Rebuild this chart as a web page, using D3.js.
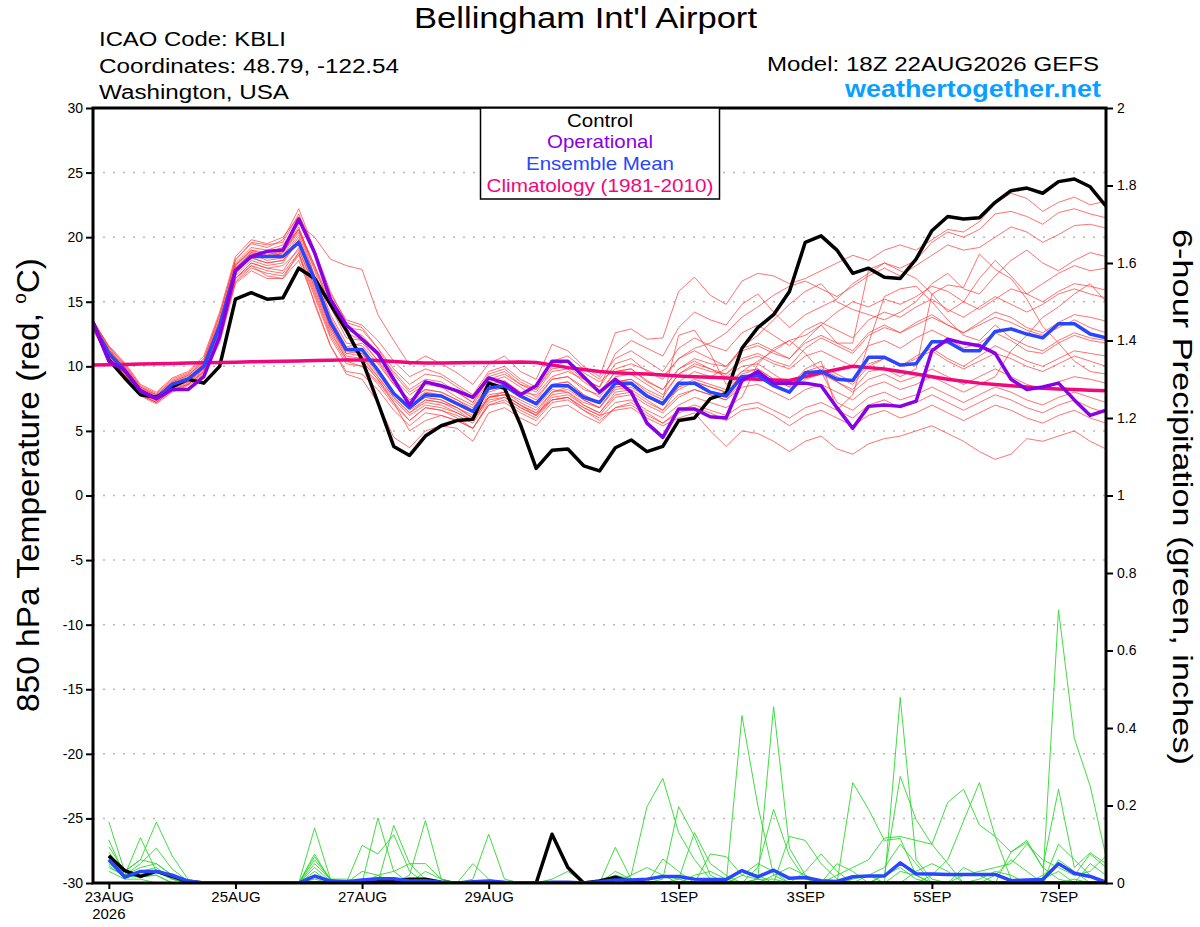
<!DOCTYPE html>
<html><head><meta charset="utf-8">
<script src="https://cdn.jsdelivr.net/npm/d3@7"></script>
<style>
body{margin:0;background:#fff}
svg{display:block}
text{font-family:"Liberation Sans",Arial,Helvetica,sans-serif}
</style>
</head><body>
<svg id="chart" width="1200" height="927"></svg>
<script>
// ---------------- DATA ----------------
const tempStart = "2026-08-22T18:00:00Z";   // first 6-hourly temperature value
const precipStart = "2026-08-23T00:00:00Z"; // first 6-hourly precipitation value
const domainEnd = "2026-09-07T18:00:00Z";
const stepHours = 6;

const xTickDates = ["2026-08-23","2026-08-25","2026-08-27","2026-08-29","2026-09-01","2026-09-03","2026-09-05","2026-09-07"];
const xTickLabels = ["23AUG","25AUG","27AUG","29AUG","1SEP","3SEP","5SEP","7SEP"];
const tempTicks = [30,25,20,15,10,5,0,-5,-10,-15,-20,-25,-30];
const precipTicks = [0,0.2,0.4,0.6,0.8,1,1.2,1.4,1.6,1.8,2];
const legendLabels = ["Control","Operational","Ensemble Mean","Climatology (1981-2010)"];

// 850 hPa temperature (C), 6-hourly
const controlT = [13.4,10.5,9.1,7.8,7.6,8.4,9.0,8.7,10.0,15.2,15.7,15.2,15.3,17.6,16.8,14.8,12.8,10.5,7.2,3.8,3.1,4.6,5.4,5.8,5.9,8.7,8.3,5.5,2.1,3.5,3.6,2.3,1.9,3.7,4.3,3.4,3.8,5.8,6.0,7.5,7.9,11.4,13.0,14.0,15.8,19.6,20.1,19.0,17.2,17.6,16.9,16.8,18.3,20.5,21.6,21.4,21.5,22.7,23.6,23.8,23.4,24.3,24.5,23.9,22.4];
const operationalT = [13.4,10.4,9.7,8.1,7.5,8.2,8.2,9.2,12.3,17.4,18.5,18.9,19.0,21.4,18.8,15.2,13.2,12.1,11.0,9.0,7.0,8.8,8.5,8.1,7.6,9.1,8.7,7.8,8.5,10.4,10.4,9.2,8.0,9.0,8.0,5.6,4.5,6.7,6.7,6.1,6.0,8.9,9.6,8.7,8.7,8.7,8.5,6.8,5.2,6.9,7.0,6.9,7.3,11.2,12.1,11.8,11.6,11.0,9.0,8.2,8.4,8.7,7.4,6.2,6.6];
const meanT = [13.2,11.0,9.7,8.1,7.5,8.6,9.0,10.0,13.1,17.4,18.5,18.5,18.5,19.6,16.7,13.4,11.3,11.3,9.7,7.9,6.8,7.8,7.7,7.1,6.5,8.3,8.5,7.7,7.1,8.5,8.5,7.6,7.2,8.7,8.7,7.7,7.1,8.7,8.7,8.0,7.7,9.2,9.3,8.5,8.0,9.5,9.6,9.0,8.9,10.7,10.7,10.1,10.2,11.9,11.9,11.2,11.2,12.7,12.9,12.5,12.2,13.3,13.3,12.5,12.2];
const climT = [10.1,10.12,10.15,10.18,10.2,10.22,10.25,10.28,10.3,10.32,10.35,10.38,10.4,10.42,10.45,10.47,10.5,10.5,10.45,10.38,10.3,10.25,10.25,10.27,10.3,10.3,10.32,10.33,10.3,10.1,9.9,9.75,9.6,9.5,9.45,9.4,9.32,9.25,9.2,9.15,9.1,9.05,9.0,8.95,8.9,9.2,9.5,9.75,10.0,9.9,9.8,9.6,9.4,9.2,9.0,8.85,8.7,8.6,8.5,8.4,8.3,8.25,8.2,8.15,8.1];

const member01 = [13.4,11.2,9.8,8.2,7.6,8.8,9.3,10.4,13.6,18.0,19.2,19.0,19.4,21.0,20.0,18.3,17.8,17.5,14.0,12.0,10.1,10.8,10.2,9.5,8.6,10.2,10.8,9.6,9.0,11.7,11.2,10.0,9.2,12.6,12.9,12.1,12.2,15.8,16.9,15.5,14.8,16.6,17.2,17.0,16.4,16.8,17.4,18.0,18.6,18.2,19.0,19.4,19.0,19.8,20.6,20.4,21.2,22.6,23.4,23.0,22.0,22.7,23.1,22.5,22.8];
const member02 = [13.0,10.8,9.5,8.0,7.4,8.5,9.0,10.0,13.0,17.2,18.6,18.8,18.6,20.2,17.0,13.8,11.5,11.8,10.5,8.8,7.4,8.2,8.0,7.4,6.8,8.6,8.9,8.0,7.8,9.2,9.6,9.0,8.4,11.0,12.0,11.4,10.8,13.0,14.2,13.6,13.2,14.8,15.6,14.2,13.0,14.0,14.6,15.2,16.4,17.2,18.0,17.6,18.2,19.6,20.4,20.0,20.6,21.8,22.0,21.6,21.0,21.9,22.2,21.8,21.5];
const member03 = [13.6,11.5,10.1,8.4,7.8,8.9,9.4,10.5,13.9,18.3,19.5,19.2,19.8,22.2,19.0,15.2,12.8,12.4,11.0,9.6,8.2,9.0,8.8,8.0,7.2,9.0,9.4,8.6,8.2,10.0,10.4,9.5,8.8,9.8,10.2,9.7,9.2,10.6,11.4,11.8,12.6,13.8,14.6,15.5,16.2,16.6,16.0,15.4,16.2,17.0,17.6,17.0,17.8,18.6,19.4,19.0,19.2,20.0,20.8,20.4,19.6,20.2,20.9,21.0,20.7];
const member04 = [13.1,11.0,9.6,8.0,7.5,8.4,8.8,9.8,12.6,16.8,18.0,17.6,17.8,19.0,16.2,13.0,11.0,10.8,9.2,7.6,6.4,7.4,7.2,6.8,6.0,7.8,8.0,7.4,6.8,8.2,8.0,7.2,6.8,8.4,8.6,7.6,7.0,8.8,9.6,9.2,9.8,11.5,12.4,13.6,14.8,15.8,16.4,15.0,14.4,14.0,13.6,14.2,15.0,16.4,17.2,16.0,15.6,17.0,18.2,19.0,18.0,17.4,18.2,18.8,18.5];
const member05 = [13.3,11.3,9.9,8.3,7.7,8.7,9.2,10.2,13.4,17.8,18.9,18.5,18.9,20.6,17.8,14.6,12.2,12.0,10.8,9.0,7.8,8.6,8.4,7.6,7.0,8.8,9.2,8.4,7.6,9.0,9.2,8.2,7.8,9.6,9.8,8.9,8.2,9.8,10.6,10.2,10.0,11.2,11.6,11.0,10.6,12.0,13.2,11.8,11.8,17.5,18.0,17.4,16.8,15.6,14.2,15.0,16.8,18.2,17.0,15.6,16.4,17.2,17.8,17.4,17.6];
const member06 = [12.9,10.7,9.3,7.8,7.2,8.2,8.6,9.6,12.2,16.5,17.6,17.2,17.0,18.6,15.4,12.2,10.2,10.0,8.6,7.0,5.8,6.8,6.6,6.0,5.2,7.2,7.6,6.8,6.2,7.8,8.0,7.0,6.4,8.0,8.2,7.4,6.6,8.4,9.0,8.6,8.2,9.6,10.4,11.2,12.0,12.4,13.2,14.2,15.0,14.6,15.2,14.8,15.4,16.2,15.8,15.0,14.4,15.2,16.0,15.6,15.0,15.8,16.4,16.2,15.9];
const member07 = [13.5,11.6,10.3,8.6,8.0,9.1,9.6,10.8,14.2,18.5,19.8,19.5,20.0,21.6,18.6,15.6,13.6,13.2,12.0,10.4,9.2,9.8,9.4,8.6,7.8,9.6,10.0,9.0,8.4,10.4,10.8,9.8,9.0,10.6,11.2,10.4,9.6,11.4,12.2,11.6,11.2,12.6,13.2,12.4,11.6,12.8,13.4,12.8,12.2,13.6,14.2,13.8,14.6,15.2,14.4,13.8,14.6,15.4,14.8,14.2,14.8,15.6,16.0,15.6,15.3];
const member08 = [13.2,11.1,9.7,8.1,7.5,8.6,9.0,10.1,13.2,17.6,18.7,18.2,18.4,20.0,16.6,13.2,11.0,11.2,9.6,8.0,6.8,7.6,7.4,6.8,6.2,8.0,8.4,7.6,7.0,8.6,8.8,7.8,7.2,8.8,9.0,8.2,7.6,9.4,10.0,9.6,9.4,10.6,11.0,10.4,10.0,11.4,12.2,11.6,11.0,12.4,13.0,12.6,13.4,14.0,13.2,12.6,13.4,14.2,13.8,13.0,12.6,13.4,14.0,13.8,13.5];
const member09 = [13.0,10.9,9.4,7.9,7.3,8.3,8.7,9.7,12.4,16.8,18.0,17.6,17.4,19.2,15.8,12.6,10.6,10.4,9.0,7.4,6.2,7.0,6.8,6.4,5.8,7.6,7.8,7.0,6.4,8.0,8.2,7.4,6.8,8.4,8.6,7.8,7.2,8.2,8.8,8.4,8.0,9.4,9.8,9.0,8.4,9.8,10.4,6.6,7.8,11.8,15.4,16.0,16.2,15.0,13.6,12.4,12.0,13.2,12.2,11.6,11.2,12.0,12.6,12.2,12.0];
const member10 = [13.4,11.4,10.0,8.4,7.8,8.8,9.3,10.3,13.6,17.9,19.0,18.6,19.0,20.8,17.4,14.0,11.8,11.6,10.2,8.6,7.4,8.2,8.0,7.4,6.6,8.4,8.8,8.0,7.4,9.0,9.2,8.4,7.6,9.2,9.4,8.6,7.8,9.4,10.2,9.8,9.4,10.4,10.8,10.2,9.8,10.8,11.2,10.6,10.0,11.6,12.0,11.4,12.2,12.8,12.2,11.4,11.8,12.6,12.0,11.2,11.0,11.8,12.4,12.0,11.8];
const member11 = [12.8,10.6,9.2,7.7,7.1,8.0,8.5,9.4,11.8,16.4,17.4,16.8,16.8,18.8,14.8,11.6,9.6,9.4,8.2,6.6,5.4,6.4,6.2,5.8,5.2,7.0,7.4,6.6,6.0,7.4,7.6,6.8,6.2,7.6,7.8,7.0,6.4,7.6,8.2,7.8,7.4,8.8,9.2,8.6,8.0,9.2,9.8,9.2,8.6,10.0,10.6,10.0,10.8,11.4,10.6,10.0,10.8,11.6,11.0,10.4,10.0,10.6,11.2,11.0,10.8];
const member12 = [13.3,11.2,9.8,8.2,7.6,8.6,9.0,10.0,13.2,17.6,18.8,18.4,18.8,20.4,17.6,14.6,12.6,12.0,10.4,8.6,7.2,8.0,7.8,7.2,6.6,8.4,8.6,7.8,7.2,8.6,8.8,7.8,7.2,8.8,9.0,8.0,7.4,12.4,12.8,11.0,8.6,9.6,9.8,9.0,8.4,9.6,10.0,9.4,8.8,10.2,10.6,10.0,10.6,11.2,10.4,9.8,10.4,11.0,10.6,10.0,9.6,10.2,10.8,10.4,10.0];
const member13 = [13.1,10.9,9.5,8.0,7.4,8.4,8.9,9.9,12.8,17.0,18.2,17.8,18.0,19.8,16.4,13.0,10.8,10.6,9.2,7.6,6.4,7.2,7.0,6.4,5.8,7.6,8.0,7.2,6.6,8.0,8.4,7.4,6.8,8.2,8.4,7.6,7.0,8.4,8.8,8.4,8.0,9.0,9.2,8.6,8.0,9.0,9.4,8.8,8.2,9.6,9.8,9.2,9.8,15.6,16.3,16.1,18.7,17.5,16.8,15.2,13.1,11.8,10.4,9.6,9.4];
const member14 = [13.5,11.5,10.2,8.5,7.9,9.0,9.5,10.6,14.0,18.2,19.6,19.4,19.6,21.8,19.0,15.8,13.4,13.0,11.4,9.4,8.0,8.8,8.6,8.0,7.2,9.2,9.6,8.6,8.0,9.6,9.8,8.8,8.0,9.6,9.8,8.8,8.2,9.8,10.4,9.8,9.2,10.0,10.2,9.4,8.6,9.2,9.6,8.8,8.0,9.0,9.4,8.8,9.2,9.8,9.2,8.6,9.2,9.8,9.2,8.6,8.2,8.8,9.2,9.0,8.7];
const member15 = [12.9,10.8,9.4,7.8,7.2,8.1,8.6,9.5,12.0,16.6,17.8,17.4,17.2,18.8,15.6,12.4,10.4,10.0,8.8,7.2,5.8,6.8,6.6,6.2,5.6,7.4,7.6,6.8,6.2,7.6,7.8,7.0,6.4,7.8,8.0,7.2,6.6,7.8,8.2,7.8,7.4,8.4,8.6,8.0,7.4,8.2,8.6,8.0,7.4,8.4,8.8,8.2,8.6,9.2,8.6,8.0,8.6,9.2,11.2,12.4,13.8,14.6,15.6,16.4,15.0];
const member16 = [13.2,11.0,9.6,8.1,7.5,8.5,9.0,9.9,12.9,17.3,18.4,18.0,18.2,19.6,16.0,12.8,10.6,10.4,9.0,7.2,5.0,5.8,6.2,5.8,5.2,7.0,7.2,6.4,5.8,7.2,7.4,6.6,6.0,7.2,7.4,6.6,6.0,7.0,7.6,7.2,6.8,7.6,10.2,11.4,12.0,11.0,9.6,7.2,6.6,7.6,8.0,7.4,7.8,8.4,7.8,7.2,7.8,8.4,8.0,7.4,7.0,7.6,8.0,7.6,7.2];
const member17 = [13.0,10.7,9.3,7.8,7.2,8.2,8.6,9.6,12.4,16.8,17.8,17.0,16.8,18.2,15.0,11.6,9.4,9.0,7.2,4.5,3.7,5.0,5.4,5.2,4.2,6.4,6.8,6.0,5.4,6.8,7.0,6.2,5.6,6.8,7.0,6.2,5.6,6.6,7.0,6.6,6.2,7.0,7.2,6.6,6.0,6.8,7.2,6.6,6.0,7.0,7.4,6.8,7.2,7.8,7.2,6.6,7.2,7.8,7.4,6.8,6.4,7.0,7.4,6.8,6.4];
const member18 = [13.4,11.3,9.9,8.3,7.7,8.7,9.1,10.2,13.4,17.8,19.0,18.8,19.2,20.6,17.0,13.6,11.4,11.0,9.4,7.8,6.6,7.4,7.2,6.6,5.8,7.6,7.8,7.0,6.2,7.4,7.6,6.6,5.8,6.8,7.2,6.4,5.6,6.4,6.8,6.4,5.8,6.6,6.8,6.2,5.4,6.2,6.6,6.0,5.4,6.2,6.6,6.0,6.4,7.0,6.4,5.8,6.4,7.0,6.6,6.0,5.6,6.2,6.6,6.0,5.6];
const member19 = [13.1,11.0,9.6,8.0,7.4,8.4,8.8,9.8,12.8,17.2,18.4,18.0,18.2,19.8,16.6,13.4,11.2,11.0,9.6,8.0,6.8,7.6,7.4,6.8,6.0,7.6,7.8,7.0,6.4,7.4,7.6,6.8,6.2,6.6,6.8,6.0,5.4,6.0,6.4,5.0,3.8,5.0,4.8,4.2,3.4,4.2,4.6,3.6,3.2,4.0,4.4,4.6,5.0,5.4,4.8,4.2,3.4,2.8,3.2,4.4,4.2,4.6,5.0,4.2,3.6];
const member20 = [13.3,11.1,9.7,8.2,7.6,8.6,9.1,10.1,13.3,17.6,18.8,18.4,18.8,20.6,17.8,15.0,13.0,12.8,11.4,9.8,8.6,9.4,9.2,8.4,7.6,9.4,9.8,8.8,8.2,9.8,10.0,9.0,8.4,10.2,10.6,9.6,9.0,10.6,11.2,10.6,10.0,11.4,11.8,11.2,10.6,11.8,12.4,11.8,11.2,12.6,13.2,12.6,13.2,13.8,13.2,12.6,13.2,13.8,13.4,12.8,12.4,13.0,13.6,13.0,12.6];
const membersT = [member01,member02,member03,member04,member05,member06,member07,member08,member09,member10,member11,member12,member13,member14,member15,member16,member17,member18,member19,member20];

// 6-hour precipitation (inches), starting 23AUG 00Z
const controlP = [.07,.032,.017,.03,.017,.004,0,0,0,0,0,0,0,0,0,0, 0,.003,.005,.01,.01,.002,0,0,0,0,0,0,.126,.04,0,.005, .015,.003,0,0,0,0,0,0,0,0,0,0,0,0,0,0, 0,0,0,0,0,0,0,0,0,0,0,0,0,0,0,0];
const meanP = [.06,.015,.03,.03,.02,.005,0,0,0,0,0,0,0,.018,.005,.003, .008,.011,.011,.005,.006,.002,0,.003,.005,.002,0,0,.002,.002,0,.003, .008,.008,.01,.017,.017,.01,.009,.009,.032,.016,.033,.012,.014,.006,.004,.016, .018,.018,.052,.024,.023,.022,.022,.022,.022,.006,.008,.009,.05,.025,.017,.002];
const precip01 = [.158,.03,.06,.05,.02,.005,0,0,0,0,0,0,0,.142,.01,0, 0,.168,.03,0,0,0,0,0,0,0,0,0,0,0,0,0, .092,.01,0,0,0,0,0,0,.432,.2,.02,0,0,0,0,.259, .19,.11,.115,.02,0,0,0,0,0,0,0,0,.705,.373,.25,.068];
const precip02 = [.111,.02,.117,.03,.01,0,0,0,0,0,0,0,0,.075,.005,0, 0,0,.149,.05,.01,0,0,0,0,0,0,0,0,0,0,0, 0,.02,.197,.27,.13,.06,.01,0,0,.01,.455,.09,.02,0,0,0, 0,0,.479,.06,.01,0,0,0,0,.08,.105,.04,.242,.04,.078,.05];
const precip03 = [.094,.03,.06,.157,.07,.01,0,0,0,0,0,0,0,.068,.01,0, .097,.075,.125,.03,0,0,0,0,0,0,0,0,0,0,0,0, 0,0,0,.01,.197,.12,.02,0,0,.04,.19,.07,.01,0,0,0, 0,.02,.275,.164,.1,.208,.242,.15,.12,.08,.11,.04,.01,0,0,0];
const precip04 = [.08,.02,.05,.09,.036,.005,0,0,0,0,0,0,0,.06,.01,.01, 0,0,0,.02,.161,.01,0,0,0,0,0,0,0,0,0,0, .03,.01,0,.062,.03,0,0,0,0,0,0,.12,.11,.05,.01,0, 0,0,0,0,.02,.06,.16,.259,.12,.01,0,0,.1,.06,.02,0];
const precip05 = [.07,.02,.04,.05,.02,0,0,0,0,0,0,0,0,.05,.01,0, 0,.02,.03,.05,.05,.01,0,.01,.126,.01,0,0,0,0,0,0, 0,0,0,0,0,0,.075,.068,.02,.01,0,0,0,0,.02,.04, .06,.116,.12,.11,.1,.05,0,0,0,0,0,0,0,0,.05,.02];
const precip06 = [.06,.01,.03,.04,.01,0,0,0,0,0,0,0,0,.04,.005,0, .03,.02,0,0,0,0,0,.05,.01,0,0,0,.01,.03,0,0, 0,0,0,0,.01,.13,.05,.02,0,0,0,0,.03,.075,.03,0, 0,0,0,0,0,0,.02,.03,.04,.05,.1,.06,.04,.02,.075,.04];
const precip07 = [.05,.02,.03,.03,.01,0,0,0,0,0,0,0,0,.03,0,0, 0,0,0,0,.03,.01,0,0,0,0,0,0,0,0,0,0, 0,.02,.04,.02,0,0,0,0,.02,.05,.03,0,0,0,0,0, .02,.04,.1,.05,0,0,0,0,.02,.06,.03,0,.06,.03,0,0];
const precip08 = [.045,.015,.02,.02,0,0,0,0,0,0,0,0,0,.02,0,0, 0,0,.01,0,0,0,0,0,0,0,0,0,0,0,0,0, .02,.01,0,0,0,.02,.03,.01,0,0,.02,.04,.02,0,.05,.03, 0,0,0,.03,.05,.03,0,0,0,0,0,.02,.05,.02,.03,.07];
const precip09 = [.04,.02,.015,.02,0,0,0,0,0,0,0,0,0,.01,0,0, 0,0,0,0,0,0,0,0,0,0,0,0,0,0,0,0, 0,0,.01,.02,.01,0,0,.01,.03,.02,0,0,0,0,0,.01, .02,0,.03,.02,0,0,0,.01,.03,.02,0,0,0,.01,0,0];
const precip10 = [.03,.01,.01,0,0,0,0,0,0,0,0,0,0,0,0,0, 0,0,0,0,0,0,0,0,0,0,0,0,0,0,0,.005, .01,0,0,0,0,0,0,0,0,.01,.01,0,0,0,0,0, 0,.02,.04,.01,0,0,.04,.02,0,0,0,.01,.03,0,0,0];
const membersP = [precip01,precip02,precip03,precip04,precip05,precip06,precip07,precip08,precip09,precip10];

// ---------------- DRAW ----------------
const svg = d3.select("#chart");
const L = 93, R = 1106, T = 108, B = 883;
const H6 = stepHours * 3600 * 1000;
const t0 = new Date(tempStart).getTime();
const p0 = new Date(precipStart).getTime();

const x = d3.scaleUtc().domain([new Date(tempStart), new Date(domainEnd)]).range([L, R]);
const yT = d3.scaleLinear().domain([-30, 30]).range([B, T]);
const yP = d3.scaleLinear().domain([0, 2]).range([B, T]);

const lineT = d3.line().x((d, i) => x(new Date(t0 + i * H6))).y(d => yT(d));
const lineP = d3.line().x((d, i) => x(new Date(p0 + i * H6))).y(d => yP(d));

svg.append("defs").append("clipPath").attr("id", "plotclip")
  .append("rect").attr("x", L).attr("y", T).attr("width", R - L).attr("height", B - T);

// gridlines
svg.append("g").selectAll("line").data(tempTicks.filter(v => v !== 30 && v !== -30)).join("line")
  .attr("x1", L).attr("x2", R).attr("y1", d => yT(d)).attr("y2", d => yT(d))
  .attr("stroke", "#b8b8b8").attr("stroke-width", 1.5).attr("stroke-dasharray", "2,8");

const plot = svg.append("g").attr("clip-path", "url(#plotclip)");

plot.append("g").selectAll("path").data(membersT).join("path")
  .attr("d", lineT).attr("fill", "none").attr("stroke", "#ff3b3b").attr("stroke-opacity", 0.72).attr("stroke-width", 1);

plot.append("g").selectAll("path").data(membersP).join("path")
  .attr("d", lineP).attr("fill", "none").attr("stroke", "#2ed82e").attr("stroke-opacity", 0.9).attr("stroke-width", 1);

plot.append("path").datum(controlP).attr("d", lineP).attr("fill", "none").attr("stroke", "#000").attr("stroke-width", 3.5).attr("stroke-linejoin", "round");
plot.append("path").datum(meanP).attr("d", lineP).attr("fill", "none").attr("stroke", "#2846ff").attr("stroke-width", 3.5).attr("stroke-linejoin", "round");

plot.append("path").datum(controlT).attr("d", lineT).attr("fill", "none").attr("stroke", "#000").attr("stroke-width", 3.5).attr("stroke-linejoin", "round");
plot.append("path").datum(climT).attr("d", lineT).attr("fill", "none").attr("stroke", "#f0087c").attr("stroke-width", 3.5).attr("stroke-linejoin", "round");
plot.append("path").datum(meanT).attr("d", lineT).attr("fill", "none").attr("stroke", "#2846ff").attr("stroke-width", 3.5).attr("stroke-linejoin", "round");
plot.append("path").datum(operationalT).attr("d", lineT).attr("fill", "none").attr("stroke", "#8a00e6").attr("stroke-width", 3.5).attr("stroke-linejoin", "round");

// axes
const styleAxis = (g, size) => {
  g.select(".domain").remove();
  g.selectAll(".tick line").attr("stroke", "#000").attr("stroke-width", 2);
  g.selectAll(".tick text").attr("fill", "#000").attr("font-size", size)
    .attr("font-family", '"Liberation Sans",Arial,Helvetica,sans-serif');
};
svg.append("g").attr("transform", `translate(${L},0)`)
  .call(d3.axisLeft(yT).tickValues(tempTicks).tickSize(7).tickPadding(3).tickFormat(d => String(d)))
  .call(g => styleAxis(g, 14));
svg.append("g").attr("transform", `translate(${R},0)`)
  .call(d3.axisRight(yP).tickValues(precipTicks).tickSize(7).tickPadding(4).tickFormat(d => String(d)))
  .call(g => styleAxis(g, 14));
svg.append("g").attr("transform", `translate(0,${B})`)
  .call(d3.axisBottom(x).tickValues(xTickDates.map(d => new Date(d + "T00:00:00Z"))).tickSize(6).tickPadding(2)
    .tickFormat((d, i) => xTickLabels[i]))
  .call(g => styleAxis(g, 15));
svg.append("text").attr("x", x(new Date(xTickDates[0] + "T00:00:00Z"))).attr("y", 919)
  .attr("text-anchor", "middle").attr("font-size", 15).text("2026");

// frame
svg.append("rect").attr("x", L).attr("y", T).attr("width", R - L).attr("height", B - T)
  .attr("fill", "none").attr("stroke", "#000").attr("stroke-width", 3);

// header texts
const addText = (txt, xx, yy, size, len, opts = {}) => {
  const t = svg.append("text").attr("x", xx).attr("y", yy).attr("font-size", size)
    .attr("fill", opts.fill || "#000").attr("text-anchor", opts.anchor || "start")
    .attr("textLength", len).attr("lengthAdjust", "spacingAndGlyphs").text(txt);
  if (opts.bold) t.attr("font-weight", "bold");
  return t;
};
addText("Bellingham Int'l Airport", 414, 28, 29, 343);
addText("ICAO Code: KBLI", 99, 46, 20, 187);
addText("Coordinates: 48.79, -122.54", 99, 72.7, 20, 300);
addText("Washington, USA", 99, 99.3, 20, 190);
addText("Model: 18Z 22AUG2026 GEFS", 767, 70.7, 20, 332);
addText("weathertogether.net", 845, 96.7, 23, 256, {bold: true, fill: "#0aa0ff"});

// legend
svg.append("rect").attr("x", 480.5).attr("y", T).attr("width", 239).attr("height", 91)
  .attr("fill", "#fff").attr("stroke", "#000").attr("stroke-width", 1.5);
const legendColors = ["#000", "#8a00e6", "#2846ff", "#f0087c"];
const legendY = [126.5, 148, 170, 192];
const legendW = [66, 106, 148, 227];
legendLabels.forEach((lab, i) => addText(lab, 600, legendY[i], 19, legendW[i], {anchor: "middle", fill: legendColors[i]}));

// axis titles
const lt = svg.append("text").attr("transform", "translate(38.5,485) rotate(-90)")
  .attr("text-anchor", "middle").attr("font-size", 32).attr("textLength", 454).attr("lengthAdjust", "spacingAndGlyphs");
lt.append("tspan").text("850 hPa Temperature (red, ");
lt.append("tspan").attr("font-size", 18).attr("dy", -13).text("o");
lt.append("tspan").attr("font-size", 32).attr("dy", 13).text("C)");

svg.append("text").attr("transform", "translate(1173,497) rotate(90)")
  .attr("text-anchor", "middle").attr("font-size", 28).attr("textLength", 536).attr("lengthAdjust", "spacingAndGlyphs")
  .text("6-hour Precipitation (green, inches)");
</script>
</body></html>
